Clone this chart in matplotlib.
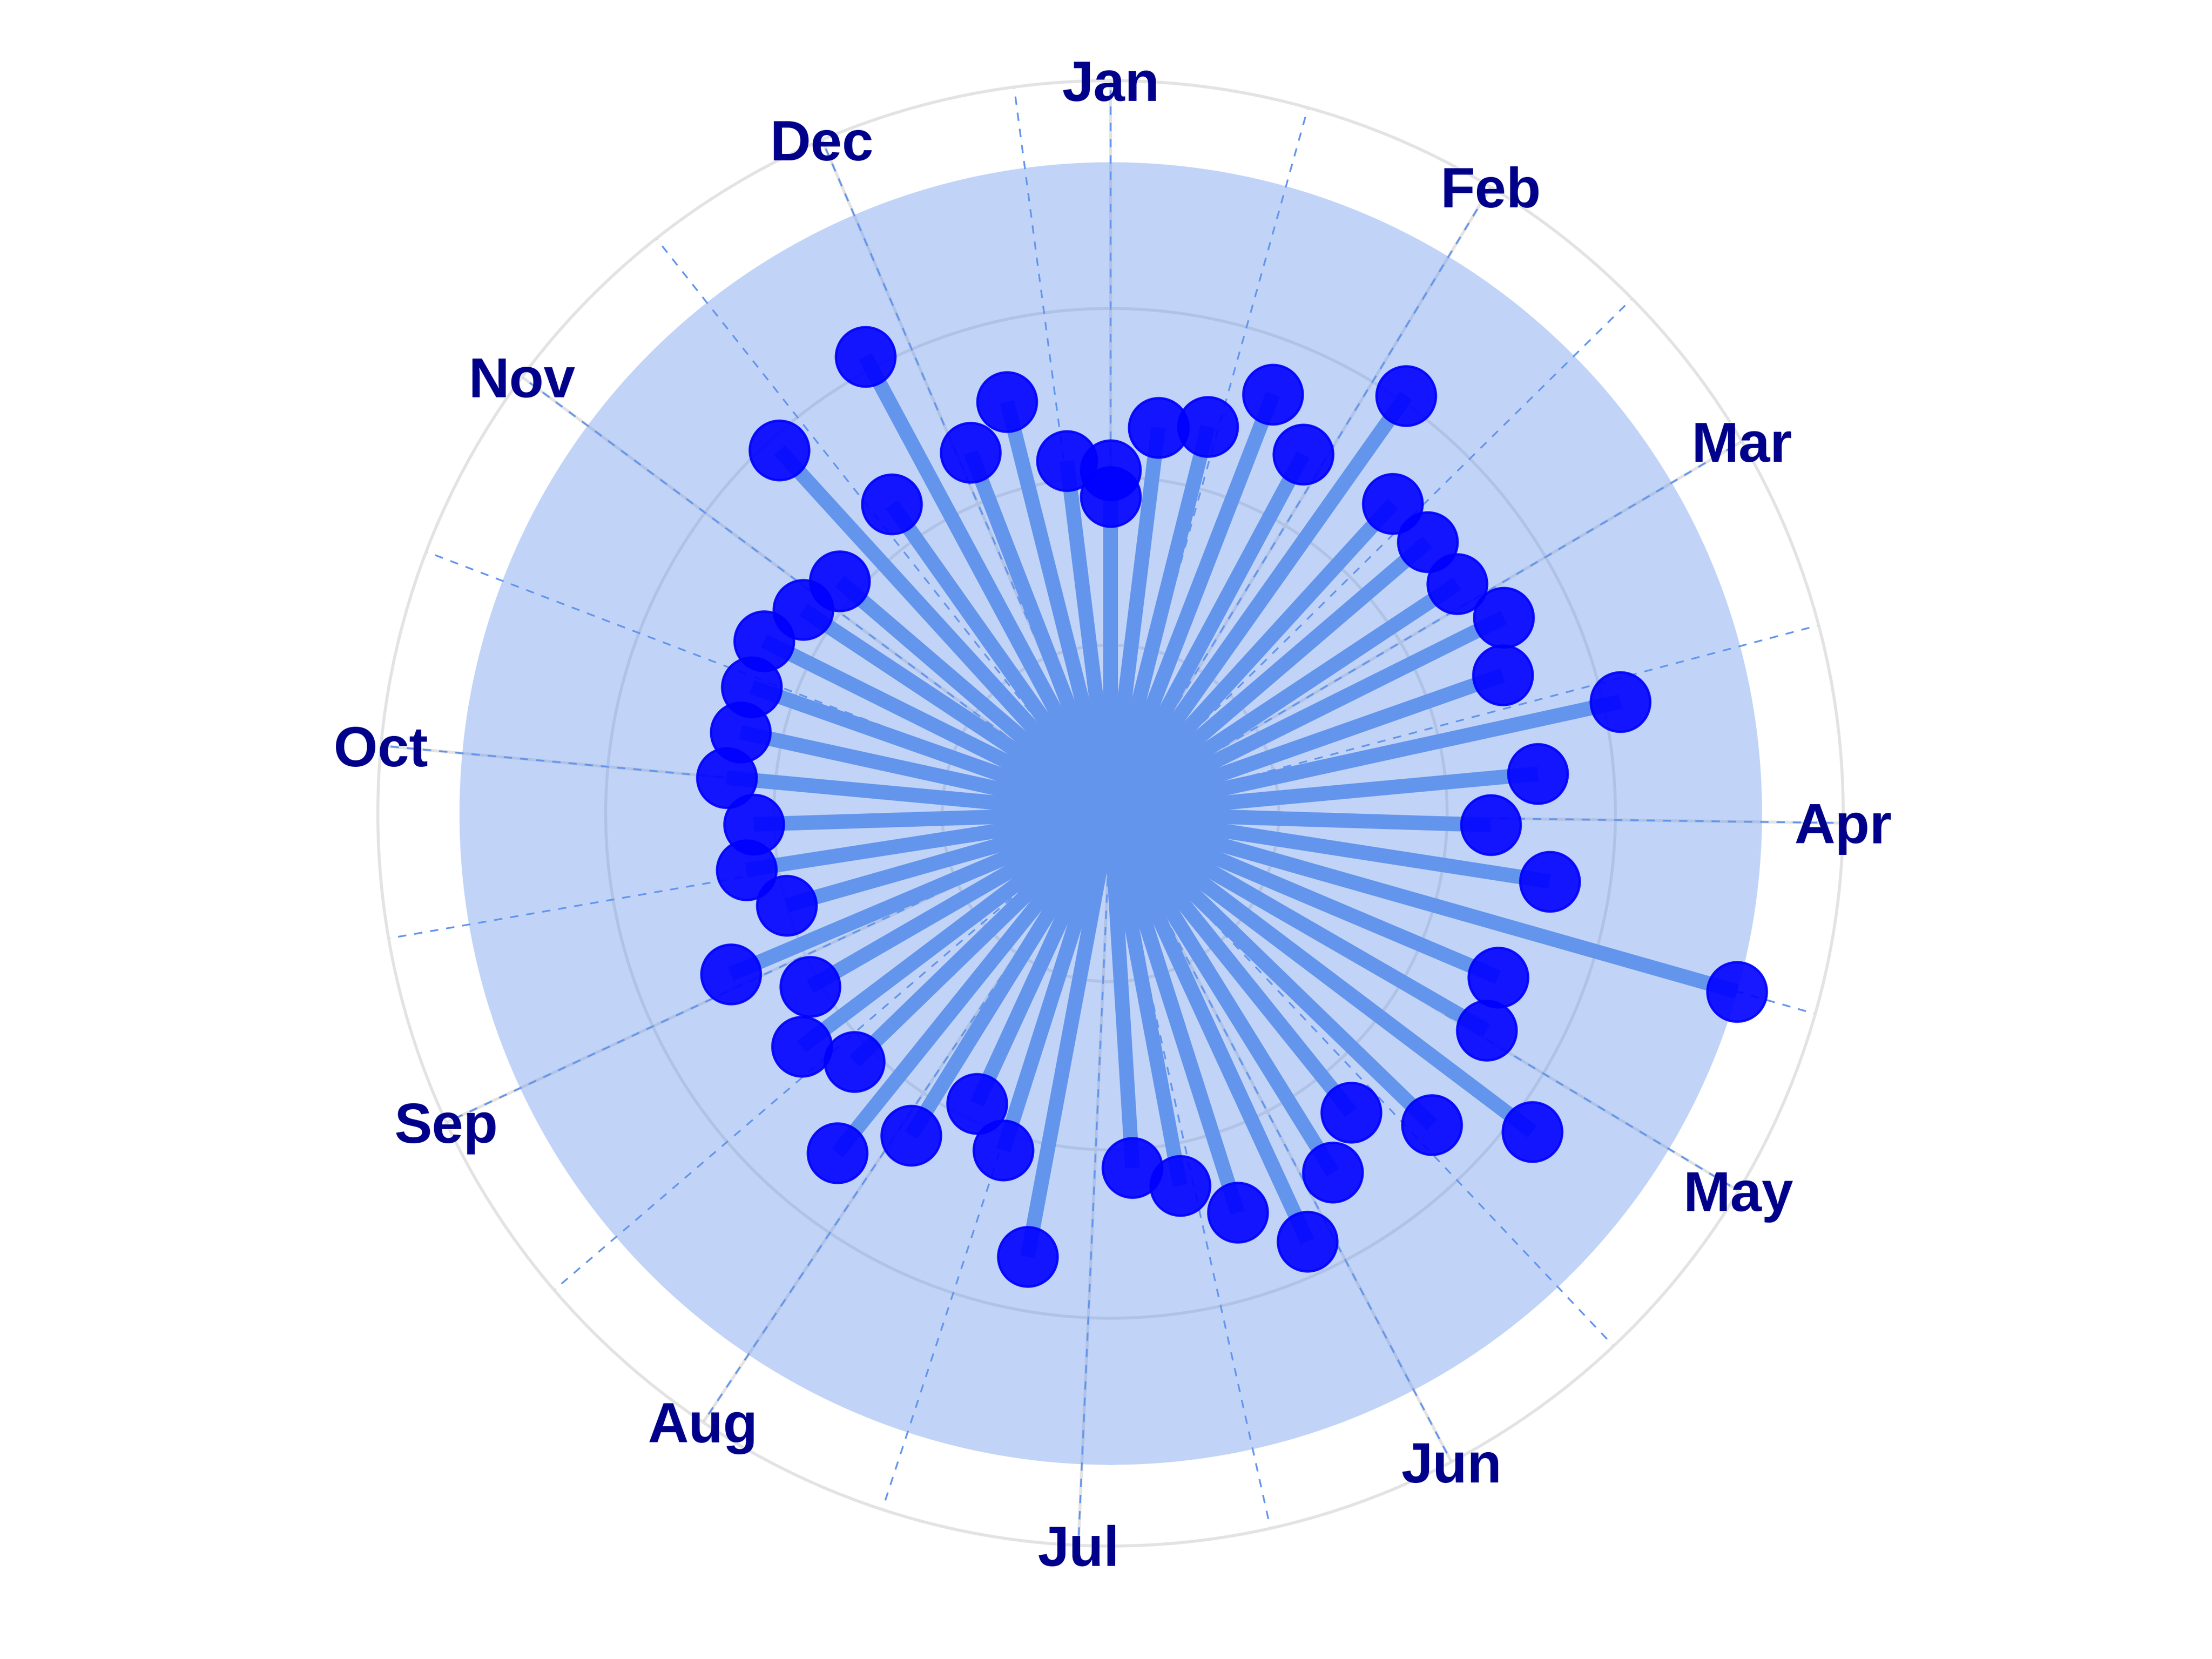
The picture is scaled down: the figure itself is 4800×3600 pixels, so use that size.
import numpy as np
import pandas as pd
import matplotlib
matplotlib.use('Agg')
import matplotlib.pyplot as plt

# weekly observations over one year (week 27 missing)
dates = pd.date_range('2023-01-01', periods=52, freq='7D')
values = [20.4, 23.1, 23.7, 26.7, 24.2, 30.4, 24.9, 24.8, 24.7, 26.1,
          24.7, 31.0, 25.5, 22.6, 26.4, 38.7, 25.0, 25.8, 31.4, 26.6,
          22.8, 25.1, 28.0, 24.9, 22.5, 21.1, np.nan, 26.8, 21.0, 19.0,
          22.5, 25.9, 21.2, 23.0, 20.6, 24.5, 20.0, 21.9, 21.2, 22.9,
          22.5, 22.6, 23.0, 21.9, 21.2, 29.2, 22.5, 30.8, 23.0, 25.2,
          21.1, 18.8]
month_starts = pd.date_range('2023-01-01', '2024-01-01', freq='MS')
month_labels = [d.strftime('%b') for d in month_starts[:-1]]
r_ticks = [10, 20, 30]

values = np.array(values)
span = (dates[-1] - dates[0]).total_seconds()


def to_theta(d):
    return np.asarray((d - dates[0]).total_seconds()) / span * 2 * np.pi


theta = to_theta(dates)
major_theta = to_theta(month_starts[:-1])
mid = month_starts[:-1] + (month_starts[1:] - month_starts[:-1]) / 2
minor_theta = to_theta(mid)
minor_theta = minor_theta[minor_theta <= 2 * np.pi]

r_max = np.nanmax(values)
r_outer = r_max * 0.45 / 0.4

blue = '#6495ED'
grey = '#E3E3E3'

fig = plt.figure(figsize=(16, 12), dpi=300)
ax = fig.add_axes([0.1708, 0.0681, 0.6625, 0.8833], projection='polar')
ax.set_theta_zero_location('N')
ax.set_theta_direction(-1)
ax.set_ylim(0, r_outer)
ax.set_axisbelow(True)

# grey grid (circles + month spokes)
ax.set_xticks(major_theta)
ax.set_xticklabels([])
ax.set_yticks(r_ticks)
ax.set_yticklabels([])
ax.grid(True, color=grey, lw=1.55)
ax.spines['polar'].set_color(grey)
ax.spines['polar'].set_linewidth(1.55)
ax.tick_params(length=0)

# shaded disk up to the data maximum
full = np.linspace(0, 2 * np.pi, 500)
ax.fill_between(full, 0, r_max, color=blue, alpha=0.4, lw=0, zorder=1)

# dashed spokes at month starts and mid-months
for t in np.concatenate([major_theta, minor_theta]):
    ax.plot([t, t], [0, r_outer], color=blue, lw=0.9,
            linestyle=(0, (4.8, 4.6)), zorder=1.5)

# lollipops
ok = ~np.isnan(values)
ax.vlines(theta[ok], 0, values[ok], color=blue, lw=7.6, capstyle='butt', zorder=3)
ax.plot(theta, values, 'o', ms=31, color='blue', mec='blue', mew=1.2,
        alpha=0.9, zorder=4)

for t, lab in zip(major_theta, month_labels):
    ax.text(t, r_outer, lab, ha='center', va='center_baseline',
            fontsize=29.5, fontweight='bold', color='#00008B',
            family=['Liberation Sans', 'DejaVu Sans'], clip_on=False, zorder=5)

fig.savefig('out.png', dpi=300, facecolor='white')
